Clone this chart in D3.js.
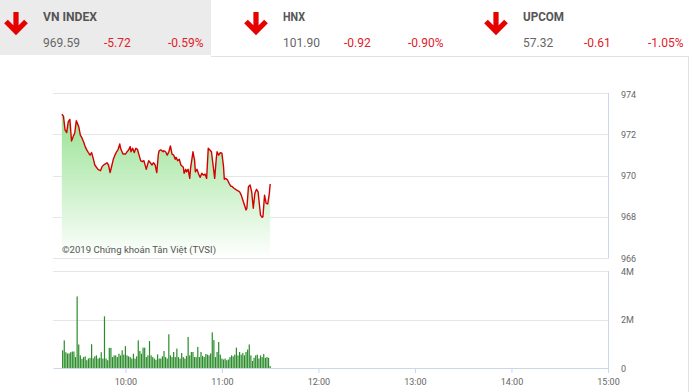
<!DOCTYPE html>
<html lang="vi">
<head>
<meta charset="UTF-8">
<title>VN-Index intraday</title>
<script src="https://d3js.org/d3.v7.min.js"></script>
<style>
  body { margin: 0; background: #fff; }
  svg text { font-family: Roboto, "Liberation Sans", Arial, sans-serif; }
</style>
</head>
<body>
<div id="chart"></div>
<script>
// header: index boards
const indexNames = ["VN INDEX", "HNX", "UPCOM"];
const indexValues = ["969.59", "101.90", "57.32"];
const indexChanges = ["-5.72", "-0.92", "-0.61"];
const indexPercents = ["-0.59%", "-0.90%", "-1.05%"];

// price line (VN-Index, morning session)
const priceTimes = [
  "09:20:30","09:21:30","09:22:30","09:23:30","09:24:30","09:25:30","09:26:30","09:27:30","09:28:30","09:29:30",
  "09:31:00","09:32:00","09:33:00","09:34:00","09:35:00","09:36:00","09:37:00","09:38:00","09:39:00","09:40:00",
  "09:41:00","09:42:00","09:43:00","09:44:30","09:45:30","09:46:30","09:47:30","09:48:30","09:49:30","09:50:30",
  "09:51:30","09:52:30","09:53:30","09:54:30","09:55:30","09:56:30","09:57:00","09:58:30","10:00:00","10:01:00",
  "10:02:00","10:03:00","10:03:30","10:04:30","10:05:30","10:06:30","10:07:30","10:08:30","10:09:30","10:10:30",
  "10:11:30","10:13:00","10:14:00","10:14:30","10:15:30","10:16:30","10:17:30","10:18:30","10:19:30","10:20:30",
  "10:21:00","10:22:00","10:23:30","10:24:00","10:25:00","10:26:00","10:27:00","10:28:00","10:29:00","10:30:00",
  "10:31:00","10:31:30","10:32:30","10:33:30","10:34:30","10:36:00","10:36:30","10:37:30","10:38:00","10:39:00",
  "10:40:00","10:40:30","10:42:00","10:43:00","10:43:30","10:44:30","10:45:30","10:46:30","10:47:30","10:48:30",
  "10:49:30","10:50:30","10:51:30","10:52:30","10:53:30","10:54:30","10:55:30","10:56:30","10:57:00","10:58:00",
  "10:59:00","11:00:00","11:01:00","11:01:30","11:02:30","11:03:30","11:04:30","11:05:30","11:06:30","11:07:30",
  "11:09:00","11:10:00","11:11:00","11:12:00","11:13:00","11:14:00","11:15:00","11:15:30","11:16:30","11:17:30",
  "11:18:30","11:19:30","11:20:30","11:21:30","11:22:30","11:23:00","11:24:00","11:25:00","11:25:30","11:26:30",
  "11:27:30","11:28:30","11:29:30","11:30:00"
];
const priceValues = [
  972.97, 972.88, 972.21, 972.08, 972.61, 972.72, 971.67, 971.88, 972.06, 972.66,
  972.37, 971.96, 971.82, 971.64, 971.40, 971.24, 971.11, 970.99, 971.11, 970.83,
  970.51, 970.40, 970.30, 970.23, 970.43, 970.51, 970.56, 970.62, 970.51, 970.14,
  970.46, 970.79, 970.99, 971.15, 971.27, 971.53, 971.32, 971.04, 971.04, 971.15,
  971.24, 971.40, 971.15, 971.32, 971.11, 971.32, 971.27, 970.99, 970.72, 970.67,
  970.72, 970.30, 970.59, 970.72, 970.62, 970.51, 970.62, 970.51, 970.14, 971.04,
  971.20, 971.24, 971.15, 971.20, 971.15, 970.99, 971.15, 971.43, 971.04, 970.99,
  970.79, 970.88, 970.72, 970.79, 970.51, 970.40, 970.11, 970.30, 970.18, 970.30,
  969.86, 970.35, 971.15, 970.75, 970.18, 970.30, 970.07, 969.91, 970.11, 970.02,
  970.07, 969.86, 971.32, 971.24, 971.15, 970.51, 969.86, 970.83, 971.15, 970.99,
  971.11, 971.08, 970.43, 969.82, 969.86, 969.78, 969.62, 969.49, 969.46, 969.38,
  969.30, 969.26, 969.21, 969.05, 968.81, 968.57, 968.33, 968.41, 969.46, 969.54,
  969.21, 968.41, 969.14, 969.33, 969.21, 968.81, 968.08, 967.97, 968.00, 969.05,
  968.65, 968.62, 969.14, 969.59
];

// matched volume per minute (millions of shares)
const volTimes = [
  "09:21","09:22","09:23","09:24","09:25","09:26","09:27","09:28","09:29","09:30",
  "09:31","09:32","09:33","09:34","09:35","09:36","09:37","09:38","09:39","09:40",
  "09:41","09:42","09:43","09:44","09:45","09:46","09:47","09:48","09:49","09:50",
  "09:51","09:52","09:53","09:54","09:55","09:56","09:57","09:58","09:59","10:00",
  "10:01","10:02","10:03","10:04","10:05","10:06","10:07","10:08","10:09","10:10",
  "10:11","10:12","10:13","10:14","10:15","10:16","10:17","10:18","10:19","10:20",
  "10:21","10:22","10:23","10:24","10:25","10:26","10:27","10:28","10:29","10:30",
  "10:31","10:32","10:33","10:34","10:35","10:36","10:37","10:38","10:39","10:40",
  "10:41","10:42","10:43","10:44","10:45","10:46","10:47","10:48","10:49","10:50",
  "10:51","10:52","10:53","10:54","10:55","10:56","10:57","10:58","10:59","11:00",
  "11:01","11:02","11:03","11:04","11:05","11:06","11:07","11:08","11:09","11:10",
  "11:11","11:12","11:13","11:14","11:15","11:16","11:17","11:18","11:19","11:20",
  "11:21","11:22","11:23","11:24","11:25","11:26","11:27","11:28","11:29","11:30"
];
const volValues = [
  0.73, 1.14, 0.65, 0.60, 0.60, 0.65, 0.68, 0.68, 0.45, 2.95,
  0.97, 0.52, 0.38, 0.45, 0.48, 0.32, 0.39, 0.42, 0.98, 0.40,
  0.48, 0.52, 0.39, 0.42, 0.65, 0.39, 2.13, 0.39, 0.32, 0.83,
  0.83, 0.45, 0.52, 0.52, 0.45, 0.59, 0.52, 0.73, 0.55, 0.90,
  0.52, 0.48, 0.45, 0.39, 0.59, 0.39, 0.48, 1.14, 0.70, 0.59,
  0.84, 0.84, 0.45, 0.52, 1.11, 0.52, 0.45, 0.39, 0.34, 0.56,
  0.39, 0.39, 0.48, 0.70, 0.45, 0.39, 1.39, 0.52, 0.45, 0.66,
  0.45, 0.80, 0.45, 0.39, 0.62, 0.45, 0.39, 0.50, 1.28, 0.52,
  0.66, 0.66, 0.45, 0.45, 0.87, 0.45, 0.66, 0.50, 0.45, 0.58,
  0.55, 0.52, 0.60, 1.47, 1.15, 0.45, 0.66, 1.07, 0.55, 0.39,
  0.35, 0.39, 0.32, 0.35, 0.45, 0.52, 0.48, 0.55, 0.84, 0.52,
  0.66, 0.55, 0.62, 0.52, 0.66, 0.76, 0.97, 0.52, 0.29, 0.42,
  0.52, 0.55, 0.39, 0.52, 0.45, 0.58, 0.42, 0.45, 0.42, 0.08
];

// axis ticks
const priceTicks = [966, 968, 970, 972, 974];
const volTicks = [0, 2, 4];
const timeTicks = ["10:00", "11:00", "12:00", "13:00", "14:00", "15:00"];
const sessionStart = "09:15";
const sessionEnd = "15:00";
const copyright = "©2019 Chứng khoán Tân Việt (TVSI)";

const W = 692, H = 392;
const plot = { left: 53, right: 608 };
const pricePanel = { top: 93, bottom: 258 };
const volPanel = { top: 271, bottom: 368 };

const parseHMS = d3.timeParse("%H:%M:%S");
const parseHM = d3.timeParse("%H:%M");

const svg = d3.select("#chart").append("svg")
  .attr("width", W).attr("height", H);

// ---------- header ----------
svg.append("rect").attr("x", 0).attr("y", 0).attr("width", 211).attr("height", 55)
  .attr("fill", "#ebebeb");
svg.append("line").attr("x1", 211).attr("x2", 688).attr("y1", 56.5).attr("y2", 56.5)
  .attr("stroke", "#e2e2e2");
svg.append("line").attr("x1", 688.5).attr("x2", 688.5).attr("y1", 56).attr("y2", H)
  .attr("stroke", "#e2e2e2");

const blockX = [0, 240, 480];
const titleWidths = [54, 22, 41];
indexNames.forEach((name, i) => {
  const g = svg.append("g").attr("transform", `translate(${blockX[i]},0)`);
  g.append("path")
    .attr("d", "M16,12 V31.5 M6,21.5 L16,31.5 L26,21.5")
    .attr("fill", "none").attr("stroke", "#e60000")
    .attr("stroke-width", 5.2).attr("stroke-linejoin", "miter");
  g.append("text").attr("x", 43).attr("y", 20.5)
    .attr("font-size", 12.5).attr("font-weight", "bold").attr("fill", "#555")
    .attr("textLength", titleWidths[i]).attr("lengthAdjust", "spacingAndGlyphs")
    .text(name);
  g.append("text").attr("x", 43).attr("y", 46.5).attr("font-size", 12).attr("fill", "#666")
    .text(indexValues[i]);
  g.append("text").attr("x", 104).attr("y", 46.5).attr("font-size", 12).attr("fill", "#e0202a")
    .text(indexChanges[i]);
  g.append("text").attr("x", 168).attr("y", 46.5).attr("font-size", 12).attr("fill", "#e0202a")
    .text(indexPercents[i]);
});

// ---------- scales ----------
const x = d3.scaleTime()
  .domain([parseHM(sessionStart), parseHM(sessionEnd)])
  .range([plot.left, plot.right]);
const yPrice = d3.scaleLinear().domain([966, 974]).range([pricePanel.bottom, pricePanel.top]);
const yVol = d3.scaleLinear().domain([0, 4]).range([volPanel.bottom, volPanel.top]);

const priceData = priceTimes.map((t, i) => ({ t: parseHMS(t), v: priceValues[i] }));
const volData = volTimes.map((t, i) => ({ t: parseHM(t), v: volValues[i] }));

// ---------- price panel ----------
svg.selectAll("line.pg").data(priceTicks).enter().append("line")
  .attr("x1", plot.left).attr("x2", plot.right)
  .attr("y1", d => Math.round(yPrice(d)) + 0.5).attr("y2", d => Math.round(yPrice(d)) + 0.5)
  .attr("stroke", "#e6e6e6");
svg.append("line").attr("x1", plot.right + 0.5).attr("x2", plot.right + 0.5)
  .attr("y1", pricePanel.top).attr("y2", pricePanel.bottom + 0.5).attr("stroke", "#ccd6eb");
svg.selectAll("text.py").data(priceTicks).enter().append("text")
  .attr("x", 621).attr("y", d => yPrice(d) + (d === 974 ? 5 : 3.5))
  .attr("font-size", 9).attr("fill", "#666").text(d => d);

const defs = svg.append("defs");
const grad = defs.append("linearGradient").attr("id", "areaFill")
  .attr("gradientUnits", "userSpaceOnUse")
  .attr("x1", 0).attr("x2", 0).attr("y1", pricePanel.top + 15).attr("y2", pricePanel.bottom);
grad.append("stop").attr("offset", 0).attr("stop-color", "#8fe08a").attr("stop-opacity", 0.95);
grad.append("stop").attr("offset", 1).attr("stop-color", "#ffffff").attr("stop-opacity", 1);

const area = d3.area().x(d => x(d.t)).y0(pricePanel.bottom).y1(d => yPrice(d.v));
const line = d3.line().x(d => x(d.t)).y(d => yPrice(d.v));

svg.append("path").datum(priceData).attr("d", area).attr("fill", "url(#areaFill)");
svg.append("path").datum(priceData).attr("d", line)
  .attr("fill", "none").attr("stroke", "#d40000").attr("stroke-width", 1.4)
  .attr("stroke-linejoin", "round");

svg.append("text").attr("x", 62).attr("y", 253)
  .attr("font-size", 9.6).attr("fill", "#555")
  .attr("textLength", 154).attr("lengthAdjust", "spacingAndGlyphs").text(copyright);

// ---------- volume panel ----------
svg.selectAll("line.vg").data(volTicks.filter(d => d > 0)).enter().append("line")
  .attr("x1", plot.left).attr("x2", plot.right)
  .attr("y1", d => Math.round(yVol(d)) + 0.5).attr("y2", d => Math.round(yVol(d)) + 0.5)
  .attr("stroke", "#e6e6e6");
svg.append("line").attr("x1", plot.right + 0.5).attr("x2", plot.right + 0.5)
  .attr("y1", volPanel.top).attr("y2", volPanel.bottom).attr("stroke", "#ccd6eb");

svg.selectAll("rect.bar").data(volData).enter().append("rect")
  .attr("x", d => x(d.t) - 0.6).attr("width", 1.2)
  .attr("y", d => yVol(d.v)).attr("height", d => yVol(0) - yVol(d.v))
  .attr("fill", "#2a8c2a");

const xAxis = svg.append("g").attr("transform", `translate(0,${volPanel.bottom})`)
  .call(d3.axisBottom(x).tickValues(timeTicks.map(parseHM))
    .tickFormat(d3.timeFormat("%H:%M")).tickSize(5).tickSizeOuter(0));
xAxis.select(".domain").attr("stroke", "#ccd6eb");
xAxis.selectAll(".tick line").attr("stroke", "#ccd6eb");
xAxis.selectAll(".tick text").attr("font-size", 9).attr("fill", "#666").attr("dy", "0.95em")
  .attr("font-family", "Roboto, 'Liberation Sans', Arial, sans-serif");

svg.selectAll("text.vy").data(volTicks).enter().append("text")
  .attr("x", 621).attr("y", d => yVol(d) + 3.5)
  .attr("font-size", 9).attr("fill", "#666").text(d => d === 0 ? "0" : d + "M");
</script>
</body>
</html>
